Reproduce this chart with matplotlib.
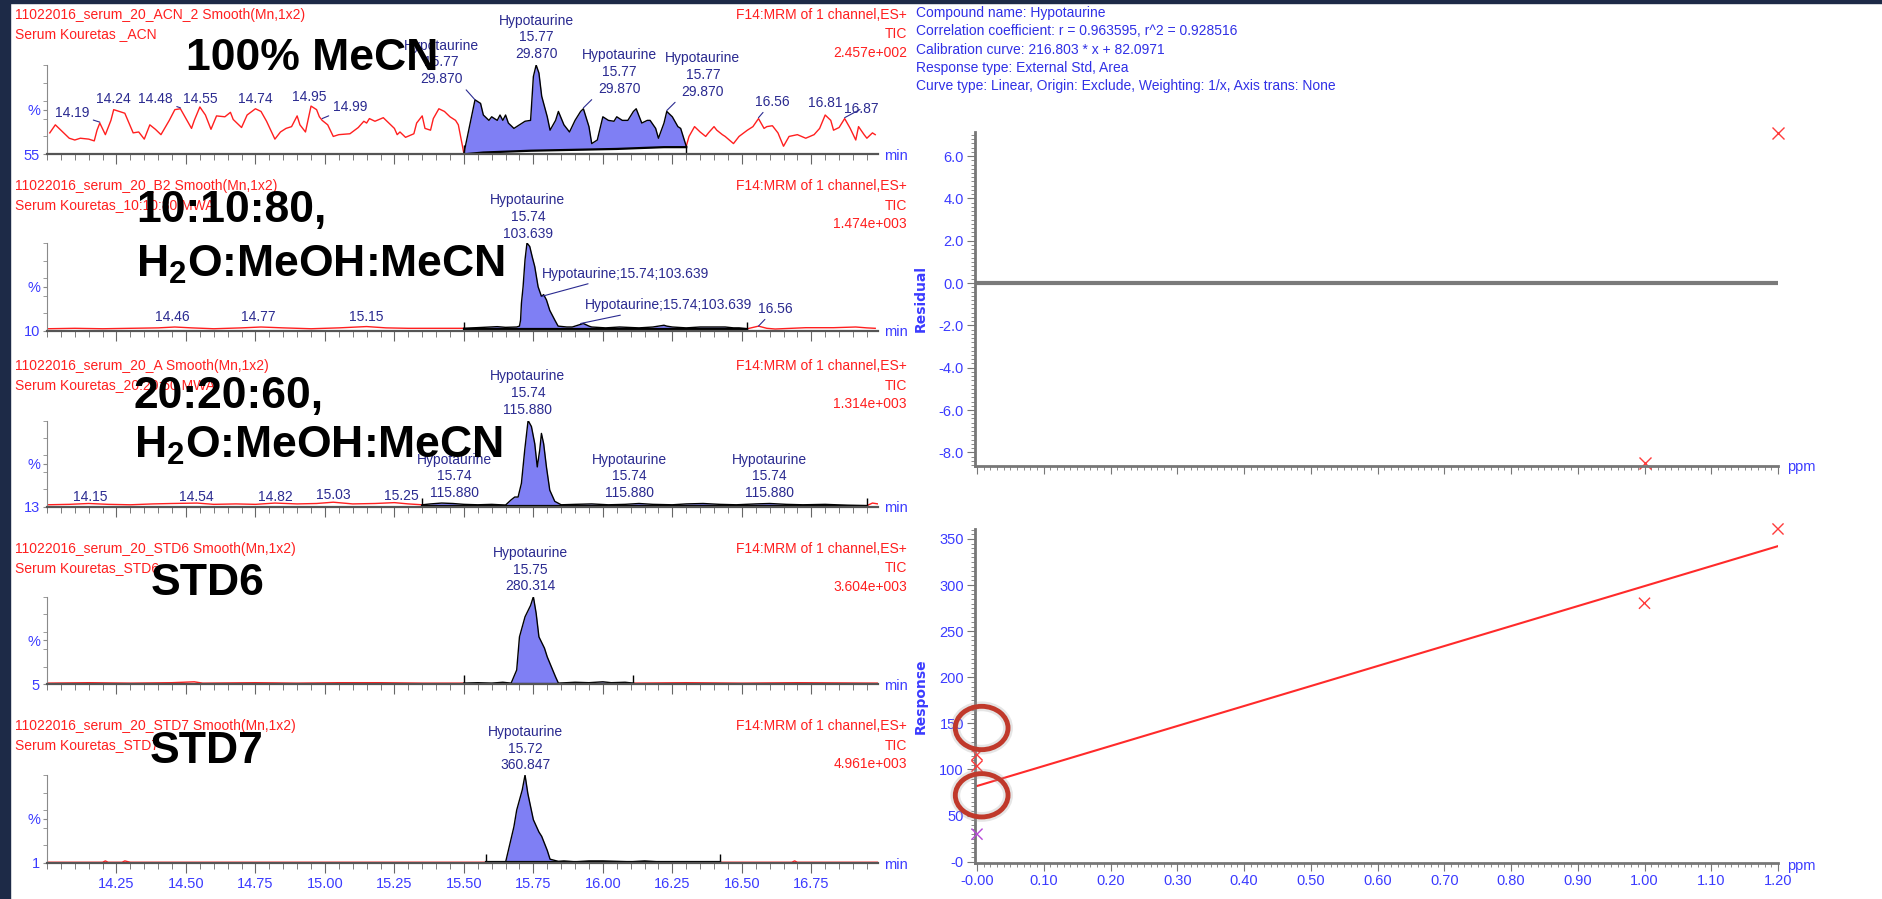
import numpy as np
import matplotlib
matplotlib.use("Agg")
import matplotlib.pyplot as plt
from matplotlib.patches import Ellipse, Rectangle
from matplotlib.ticker import MultipleLocator

plt.rcParams["font.family"] = ["Liberation Sans", "DejaVu Sans"]
plt.rcParams["mathtext.fontset"] = "custom"
plt.rcParams["mathtext.rm"] = "Liberation Sans:bold"
plt.rcParams["mathtext.bf"] = "Liberation Sans:bold"

# ---- chromatograms: (retention time [min], relative intensity [%]) ----
p1_pts = [(14.01, 24), (14.03, 33), (14.05, 27), (14.08, 18), (14.10, 16), (14.12, 18),
          (14.15, 17), (14.17, 15), (14.18, 27), (14.19, 35), (14.21, 22), (14.23, 38),
          (14.24, 50), (14.26, 48), (14.28, 46), (14.31, 24), (14.33, 25), (14.35, 17),
          (14.37, 33), (14.39, 28), (14.41, 22), (14.44, 38), (14.46, 50), (14.48, 51),
          (14.50, 40), (14.52, 29), (14.53, 38), (14.55, 53), (14.57, 44), (14.59, 28),
          (14.61, 43), (14.64, 42), (14.66, 47), (14.67, 39), (14.70, 30), (14.72, 44),
          (14.75, 51), (14.77, 48), (14.79, 37), (14.82, 17), (14.84, 25), (14.86, 29),
          (14.88, 31), (14.90, 43), (14.91, 33), (14.93, 25), (14.95, 54), (14.97, 50),
          (14.98, 42), (14.99, 38), (15.01, 33), (15.03, 20), (15.05, 22), (15.09, 23),
          (15.12, 30), (15.14, 37), (15.15, 35), (15.16, 40), (15.18, 37), (15.21, 41),
          (15.23, 35), (15.25, 29), (15.26, 22), (15.27, 25), (15.29, 19), (15.32, 23),
          (15.33, 35), (15.35, 43), (15.36, 29), (15.38, 27), (15.39, 40), (15.41, 51),
          (15.43, 48), (15.45, 42), (15.47, 38), (15.48, 33), (15.50, 1),
          (15.54, 61), (15.56, 57), (15.57, 44), (15.59, 38), (15.60, 42), (15.62, 38),
          (15.63, 44), (15.64, 38), (15.65, 44), (15.66, 35), (15.68, 29), (15.70, 33),
          (15.72, 37), (15.74, 38), (15.75, 87), (15.76, 100), (15.77, 91), (15.78, 65),
          (15.80, 42), (15.81, 27), (15.83, 38), (15.84, 48), (15.86, 33), (15.88, 25),
          (15.90, 38), (15.92, 48), (15.93, 51), (15.95, 31), (15.96, 12), (15.98, 16),
          (16.00, 42), (16.02, 38), (16.04, 37), (16.05, 42), (16.07, 38), (16.09, 38),
          (16.11, 48), (16.12, 51), (16.14, 35), (16.16, 38), (16.17, 38), (16.19, 29),
          (16.20, 18), (16.22, 35), (16.23, 48), (16.25, 42), (16.27, 31), (16.28, 29),
          (16.30, 9),
          (16.31, 20), (16.33, 31), (16.35, 25), (16.37, 20), (16.38, 24), (16.40, 31),
          (16.41, 27), (16.43, 22), (16.44, 20), (16.47, 12), (16.49, 20), (16.52, 27),
          (16.54, 31), (16.56, 40), (16.58, 29), (16.59, 31), (16.61, 32), (16.63, 24),
          (16.65, 9), (16.67, 20), (16.70, 22), (16.73, 18), (16.76, 22), (16.78, 29),
          (16.80, 44), (16.82, 38), (16.83, 27), (16.85, 30), (16.87, 40), (16.89, 29),
          (16.91, 16), (16.92, 31), (16.94, 22), (16.95, 18), (16.97, 24), (16.98, 22)]
p1_base = [(15.50, 0), (15.57, 2), (15.74, 4), (16.05, 6), (16.22, 8), (16.30, 8)]

p2_pts = [(14.00, 2), (14.10, 2.5), (14.20, 2), (14.30, 2.5), (14.40, 3), (14.46, 4),
          (14.52, 3), (14.60, 2), (14.70, 3), (14.77, 4), (14.85, 3), (14.95, 2),
          (15.05, 3), (15.15, 4.5), (15.22, 3), (15.30, 2.5), (15.40, 2.5), (15.50, 2.5),
          (15.53, 3), (15.57, 3.6), (15.62, 4.4), (15.65, 3.6), (15.69, 4), (15.700, 5),
          (15.704, 12), (15.707, 31), (15.713, 50), (15.720, 81), (15.727, 100),
          (15.737, 96), (15.746, 84), (15.755, 73), (15.767, 50), (15.779, 39),
          (15.787, 41), (15.797, 35), (15.809, 23), (15.827, 12), (15.839, 5),
          (15.87, 4), (15.89, 4), (15.92, 7), (15.93, 8), (15.95, 5), (15.96, 4),
          (16.01, 3), (16.06, 4), (16.13, 3), (16.18, 4), (16.22, 6), (16.23, 5),
          (16.25, 4), (16.30, 3), (16.35, 4), (16.37, 4), (16.41, 4), (16.44, 4),
          (16.47, 3), (16.49, 3), (16.52, 2),
          (16.56, 5), (16.59, 2.5), (16.62, 1.7), (16.73, 3.2), (16.83, 3.2),
          (16.91, 4), (16.95, 3), (16.98, 2.5)]

p3_pts = [(14.00, 2), (14.08, 2.5), (14.15, 3.5), (14.22, 2.5), (14.30, 2), (14.38, 3),
          (14.45, 3.5), (14.54, 4), (14.60, 2.5), (14.68, 3), (14.75, 2.5), (14.82, 4),
          (14.90, 3), (14.97, 3.5), (15.03, 5), (15.10, 3), (15.18, 3.5), (15.25, 4.5),
          (15.30, 3), (15.35, 2),
          (15.38, 3), (15.42, 4), (15.46, 3.5), (15.50, 2.5), (15.55, 2), (15.60, 2.5),
          (15.65, 1.7), (15.671, 8), (15.683, 11), (15.695, 11), (15.707, 27),
          (15.719, 66), (15.731, 100), (15.743, 93), (15.755, 73), (15.764, 46),
          (15.773, 66), (15.779, 85), (15.787, 73), (15.797, 46), (15.809, 19),
          (15.827, 6), (15.85, 2), (15.90, 2.5), (15.96, 3), (16.02, 2), (16.08, 2.5),
          (16.13, 3.5), (16.18, 2.5), (16.25, 2), (16.30, 3), (16.36, 3.5), (16.42, 2.5),
          (16.48, 2), (16.55, 3), (16.60, 3.5), (16.66, 2.5), (16.72, 2), (16.80, 2.5),
          (16.88, 1.5), (16.95, 1),
          (16.97, 4), (16.99, 3)]

p4_pts = [(14.00, 1), (14.15, 1.5), (14.30, 1), (14.45, 1.5), (14.53, 2.5), (14.56, 1),
          (14.75, 1.5), (14.90, 1), (15.05, 1.5), (15.20, 1.5), (15.35, 1), (15.50, 1),
          (15.55, 1.5), (15.60, 1), (15.64, 2), (15.67, 1), (15.69, 16), (15.70, 54),
          (15.72, 77), (15.74, 90), (15.75, 100), (15.76, 81), (15.77, 54), (15.79, 41),
          (15.80, 31), (15.83, 8), (15.84, 1), (15.90, 2), (15.95, 1.5), (16.00, 2.5),
          (16.03, 1.5), (16.08, 2), (16.11, 1),
          (16.30, 1.5), (16.50, 1), (16.70, 1.5), (16.99, 1)]

p5_pts = [(14.00, 0.5), (14.20, 0.5), (14.21, 2), (14.22, 0.5), (14.27, 0.5), (14.28, 2),
          (14.30, 0.5), (15.00, 0.5), (15.58, 0.5),
          (15.65, 0.5), (15.66, 14), (15.68, 41), (15.69, 60), (15.71, 83), (15.72, 100),
          (15.73, 79), (15.75, 49), (15.77, 35), (15.78, 30), (15.80, 14), (15.81, 4),
          (15.84, 1.5), (15.86, 2), (15.90, 1), (15.95, 2), (16.00, 2), (16.05, 1.5),
          (16.10, 1), (16.15, 2), (16.20, 1), (16.30, 0.8), (16.42, 0.5),
          (16.60, 0.5), (16.68, 0.5), (16.69, 2), (16.70, 0.5), (16.99, 0.5)]

traces = [p1_pts, p2_pts, p3_pts, p4_pts, p5_pts]
windows = [(15.50, 16.30), (15.50, 16.52), (15.35, 16.95), (15.50, 16.11), (15.58, 16.42)]
base_levels = [None, 1.5, 1.0, 0.5, 0.3]
offsets = ["55", "10", "13", "5", "1"]
scales = ["2.457e+002", "1.474e+003", "1.314e+003", "3.604e+003", "4.961e+003"]
file_names = ["11022016_serum_20_ACN_2 Smooth(Mn,1x2)",
              "11022016_serum_20_B2 Smooth(Mn,1x2)",
              "11022016_serum_20_A Smooth(Mn,1x2)",
              "11022016_serum_20_STD6 Smooth(Mn,1x2)",
              "11022016_serum_20_STD7 Smooth(Mn,1x2)"]
sample_names = ["Serum Kouretas _ACN", "Serum Kouretas_10:10:80 MWA",
                "Serum Kouretas_20:20:60 MWA", "Serum Kouretas_STD6", "Serum Kouretas_STD7"]
rt_ticks = [14.25, 14.50, 14.75, 15.00, 15.25, 15.50, 15.75, 16.00, 16.25, 16.50, 16.75]

# peak labels: (text, rt, intensity, tip rt, tip intensity)
peak_labels = [
    [("14.19", 14.09, 46, 14.19, 36), ("14.24", 14.24, 62, None, None),
     ("14.48", 14.39, 62, 14.48, 52), ("14.55", 14.55, 62, None, None),
     ("14.74", 14.75, 62, None, None), ("14.95", 14.945, 64, None, None),
     ("14.99", 15.09, 53, 14.99, 40), ("16.56", 16.61, 59, 16.56, 41),
     ("16.81", 16.80, 57, None, None), ("16.87", 16.93, 51, 16.87, 41),
     ("Hypotaurine\n15.77\n29.870", 15.42, 103, 15.54, 61),
     ("Hypotaurine\n15.77\n29.870", 15.76, 131, None, None),
     ("Hypotaurine\n15.77\n29.870", 16.06, 92, 15.93, 52),
     ("Hypotaurine\n15.77\n29.870", 16.36, 89, 16.23, 49)],
    [("Hypotaurine\n15.74\n103.639", 15.73, 130, None, None),
     ("14.46", 14.45, 16, None, None), ("14.77", 14.76, 16, None, None),
     ("15.15", 15.15, 16, None, None), ("16.56", 16.62, 25, 16.56, 5)],
    [("Hypotaurine\n15.74\n115.880", 15.73, 132, None, None),
     ("Hypotaurine\n15.74\n115.880", 15.466, 35, None, None),
     ("Hypotaurine\n15.74\n115.880", 16.095, 35, None, None),
     ("Hypotaurine\n15.74\n115.880", 16.60, 35, None, None),
     ("14.15", 14.156, 11, None, None), ("14.54", 14.537, 11, None, None),
     ("14.82", 14.82, 11, None, None), ("15.03", 15.03, 13, None, None),
     ("15.25", 15.276, 12, None, None)],
    [("Hypotaurine\n15.75\n280.314", 15.74, 131, None, None)],
    [("Hypotaurine\n15.72\n360.847", 15.72, 130, None, None)],
]
# left-aligned single-line labels in the 10:10:80 trace
side_labels = [("Hypotaurine;15.74;103.639", 15.78, 65, 15.78, 39),
               ("Hypotaurine;15.74;103.639", 15.935, 29, 15.92, 8)]

# ---- calibration ----
conc = [0.0, 0.0, 0.0, 1.0, 1.2]
response = [29.870, 103.639, 115.880, 280.314, 360.847]
slope, intercept = 216.803, 82.0971
resid_x = [1.2, 1.0]
resid_y = [7.1, -8.5]
ppm_ticks = [0.0, 0.1, 0.2, 0.3, 0.4, 0.5, 0.6, 0.7, 0.8, 0.9, 1.0, 1.1, 1.2]
ppm_labels = ["-0.00", "0.10", "0.20", "0.30", "0.40", "0.50", "0.60",
              "0.70", "0.80", "0.90", "1.00", "1.10", "1.20"]
resp_ticks = [0, 50, 100, 150, 200, 250, 300, 350]
resp_labels = ["-0", "50", "100", "150", "200", "250", "300", "350"]
resid_ticks = [-8, -6, -4, -2, 0, 2, 4, 6]
circled = [145, 72]
info = ["Compound name: Hypotaurine",
        "Correlation coefficient: r = 0.963595, r^2 = 0.928516",
        "Calibration curve: 216.803 * x + 82.0971",
        "Response type: External Std, Area",
        "Curve type: Linear, Origin: Exclude, Weighting: 1/x, Axis trans: None"]

RED = "#ff1f1f"
BLUE = "#3b3bff"
NAVY = "#2a2a90"
FILL = "#7f7ff4"

W, H = 1883, 899
fig = plt.figure(figsize=(W / 100, H / 100), dpi=100)


def box(l, t, r, b):
    return [l / W, 1 - b / H, (r - l) / W, (b - t) / H]


def ftext(x, y, s, **kw):
    return fig.text(x / W, 1 - y / H, s, **kw)


# screenshot frame
fig.patches.append(Rectangle((0, 0), 10 / W, 1, transform=fig.transFigure,
                             color="#1d2a47", zorder=0))
fig.patches.append(Rectangle((0, 1 - 3 / H), 1, 3 / H, transform=fig.transFigure,
                             color="#1d2a47", zorder=0))

panel_px = [(65, 154.3), (243, 330.5), (420.5, 506.5), (596.7, 684), (775, 862.7)]
header_y = [15, 186, 366, 549, 726]

for k in range(5):
    top, bot = panel_px[k]
    ax = fig.add_axes(box(47, top, 878, bot))
    ax.patch.set_visible(False)
    t, y = np.array(traces[k], float).T
    lo, hi = windows[k]
    pre, post = t <= lo, t >= hi
    mid = (t >= lo) & (t <= hi)
    if base_levels[k] is None:
        bt, bv = np.array(p1_base, float).T
    else:
        bt, bv = np.array([lo, hi]), np.array([base_levels[k]] * 2)
    ax.fill_between(t[mid], np.interp(t[mid], bt, bv), y[mid], color=FILL, lw=0)
    ax.plot(t[pre], y[pre], color=RED, lw=1)
    ax.plot(t[post], y[post], color=RED, lw=1)
    ax.plot(t[mid], y[mid], color="black", lw=1)
    ax.plot(bt, bv, color="black", lw=1.6)
    ax.vlines([lo, hi], 0, 10, color="black", lw=1)

    ax.set_xlim(14.0, 16.99)
    ax.set_ylim(0, 100)
    for s in ["top", "right"]:
        ax.spines[s].set_visible(False)
    ax.spines["bottom"].set_color("#555555")
    ax.spines["bottom"].set_linewidth(1.6)
    ax.spines["left"].set_color("#8a8a8a")
    ax.set_xticks(rt_ticks)
    ax.set_xticklabels([f"{v:.2f}" for v in rt_ticks])
    ax.xaxis.set_minor_locator(MultipleLocator(0.05))
    ax.tick_params(axis="x", which="major", length=7, color="#666666",
                   labelcolor=BLUE, labelsize=10.5, pad=3)
    ax.tick_params(axis="x", which="minor", length=4, color="#666666")
    if k < 4:
        ax.tick_params(axis="x", labelbottom=False)
    ax.set_yticks([0, 50])
    ax.set_yticklabels([offsets[k], "%"])
    ax.set_yticks([20, 40, 60, 80, 100], minor=True)
    ax.tick_params(axis="y", which="both", length=3, color="#8a8a8a",
                   labelcolor=BLUE, labelsize=10.5, pad=2)

    for txt, tx, ty, px, py in peak_labels[k]:
        kw = dict(ha="center", va="center", color=NAVY, fontsize=10,
                  linespacing=1.25, multialignment="center", clip_on=False)
        if px is None:
            ax.text(tx, ty, txt, **kw)
        else:
            ax.annotate(txt, xy=(px, py), xytext=(tx, ty), annotation_clip=False,
                        arrowprops=dict(arrowstyle="-", color=NAVY, lw=0.8,
                                        shrinkA=1, shrinkB=0), **kw)
    if k == 1:
        for txt, tx, ty, px, py in side_labels:
            ax.annotate(txt, xy=(px, py), xytext=(tx, ty), ha="left", va="center",
                        color=NAVY, fontsize=10, annotation_clip=False,
                        arrowprops=dict(arrowstyle="-", color=NAVY, lw=0.8,
                                        shrinkA=1, shrinkB=0))

    hy = header_y[k]
    ftext(15, hy, file_names[k], color=RED, fontsize=10, va="center")
    ftext(15, hy + 19.5, sample_names[k], color=RED, fontsize=10, va="center")
    ftext(907, hy, "F14:MRM of 1 channel,ES+", color=RED, fontsize=10, va="center", ha="right")
    ftext(907, hy + 19.5, "TIC", color=RED, fontsize=10, va="center", ha="right")
    ftext(907, hy + 38, scales[k], color=RED, fontsize=10, va="center", ha="right")
    ftext(884, bot + 2, "min", color=BLUE, fontsize=10.5, va="center", ha="left")

# big condition captions
big = dict(color="black", fontsize=32, fontweight="bold", va="baseline", zorder=20)
ftext(186, 70, "100% MeCN", **big)
ftext(136, 222, "10:10:80,", **big)
ftext(136, 277, r"H$_\mathbf{2}$O:MeOH:MeCN", **big)
ftext(134, 408, "20:20:60,", **big)
ftext(134, 458, r"H$_\mathbf{2}$O:MeOH:MeCN", **big)
ftext(151, 595, "STD6", **big)
ftext(150, 763, "STD7", **big)

# calibration header
for j, line in enumerate(info):
    ftext(916, 13.3 + j * 18.1, line, color="#3030e6", fontsize=10, va="center")


def style_cal(ax):
    ax.patch.set_visible(False)
    for s in ["top", "right"]:
        ax.spines[s].set_visible(False)
    for s in ["left", "bottom"]:
        ax.spines[s].set_color("#777777")
        ax.spines[s].set_linewidth(2)
    ax.set_xlim(-0.003, 1.2)
    ax.set_xticks(ppm_ticks)
    ax.xaxis.set_minor_locator(MultipleLocator(0.01))
    ax.tick_params(which="major", length=6, color="#777777", labelcolor=BLUE,
                   labelsize=10.5, pad=2)
    ax.tick_params(which="minor", length=3, color="#777777")


# residual plot
axr = fig.add_axes(box(975, 131.7, 1778, 465.7))
style_cal(axr)
axr.set_ylim(-8.63, 7.15)
axr.set_yticks(resid_ticks)
axr.set_yticklabels([f"{v:.1f}" for v in resid_ticks])
axr.yaxis.set_minor_locator(MultipleLocator(0.2))
axr.tick_params(axis="x", labelbottom=False)
axr.plot([0, 1.2], [0, 0], color="#7a7a7a", lw=3)
axr.plot(resid_x, resid_y, "x", color="#ff3b3b", ms=8, mew=1, clip_on=False)
axr.set_ylabel("Residual", color=BLUE, fontsize=10, fontweight="bold",
               fontfamily="DejaVu Sans", labelpad=8)
ftext(1787, 467, "ppm", color=BLUE, fontsize=10.5, va="center")

# response plot
axc = fig.add_axes(box(975, 529.3, 1778, 862.7))
style_cal(axc)
axc.set_ylim(-1.1, 360.5)
axc.set_yticks(resp_ticks)
axc.set_yticklabels(resp_labels)
axc.yaxis.set_minor_locator(MultipleLocator(5))
axc.set_xticklabels(ppm_labels)
fit_x = np.array([min(conc), max(conc)])
axc.plot(fit_x, slope * fit_x + intercept, color="#ff2a2a", lw=1.5)
# the lowest point sits on the axis and shows up violet in the screenshot
mark_colors = ["#b648d8" if r < 50 else "#ff3b3b" for r in response]
axc.scatter(conc, response, marker="x", c=mark_colors, s=64, linewidths=1,
            clip_on=False, zorder=5)
axc.set_ylabel("Response", color=BLUE, fontsize=10, fontweight="bold",
               fontfamily="DejaVu Sans", labelpad=8)
ftext(1787, 866, "ppm", color=BLUE, fontsize=10.5, va="center")
for cy in circled:
    axc.add_patch(Ellipse((0.007, cy), 0.079, 47, fill=False, ec="#9a9a9a", lw=7,
                          alpha=0.25, clip_on=False, zorder=6))
    axc.add_patch(Ellipse((0.007, cy), 0.079, 47, fill=False, ec="#c0392b", lw=3.5,
                          clip_on=False, zorder=7))

fig.savefig("out.png", dpi=100, facecolor="white")
